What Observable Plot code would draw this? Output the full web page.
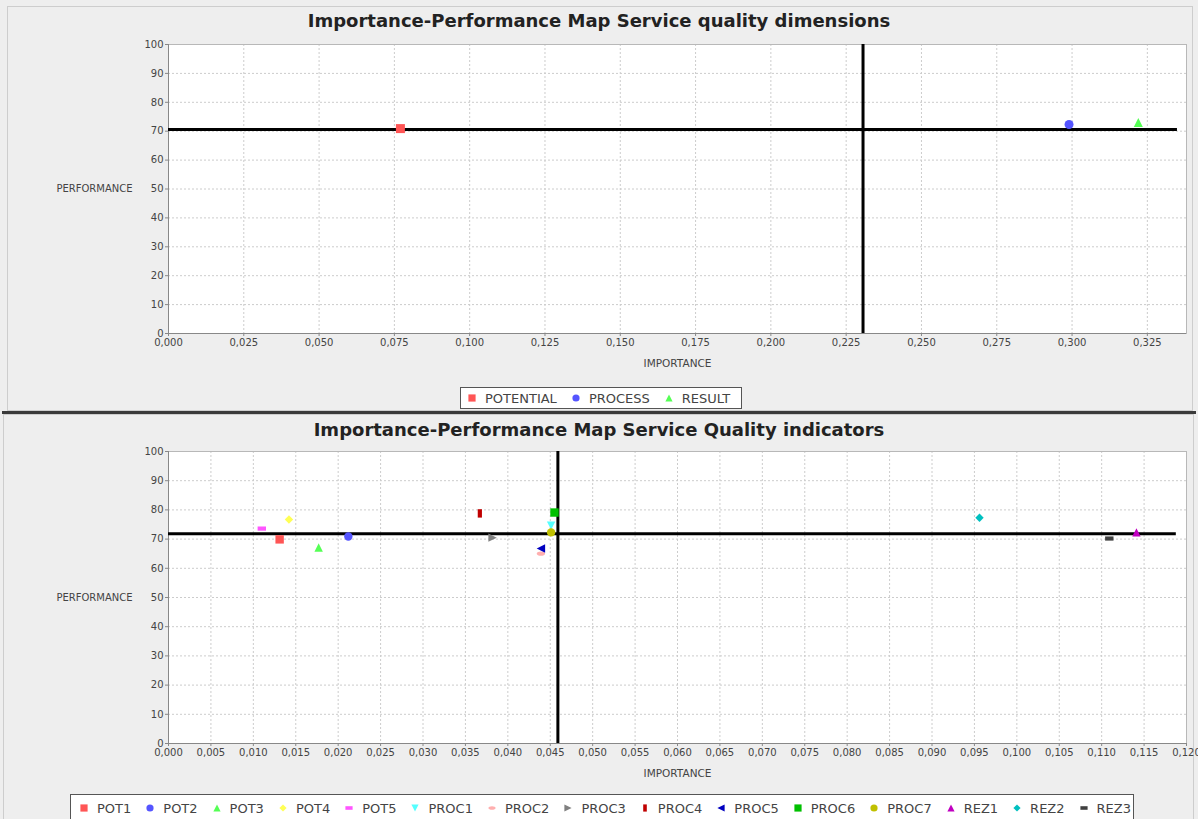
<!DOCTYPE html>
<html><head><meta charset="utf-8">
<script src="https://cdn.jsdelivr.net/npm/d3@7"></script>
<script src="https://cdn.jsdelivr.net/npm/@observablehq/plot@0.6"></script>
<style>
html,body{margin:0;padding:0;background:#eeeeee;}
#root{position:relative;width:1198px;height:819px;overflow:hidden;font-family:"DejaVu Sans",sans-serif;background:#eeeeee;}
.panel{position:absolute;border:1px solid #cdcdcd;box-sizing:border-box;}
.sep{position:absolute;left:2px;width:1194px;top:411px;height:3px;background:#3a3a3a;}
.title{position:absolute;left:0;width:1198px;text-align:center;font-weight:bold;font-size:18px;color:#222;white-space:nowrap;}
.chart{position:absolute;left:0;}
.legend{position:absolute;background:#fff;border:1px solid #555;box-sizing:border-box;display:flex;align-items:center;font-size:13px;color:#444;white-space:nowrap;padding-left:6px;}
.legend .item{display:flex;align-items:center;margin-right:14px;}
.legend svg{margin-right:8px;overflow:visible;}
</style>
</head><body>
<div id="root">
  <div class="panel" style="left:7px;top:6px;width:1186px;height:405px;"></div>
  <div class="panel" style="left:3px;top:414px;width:1191px;height:410px;"></div>
  <div class="sep"></div>
  <div class="title" id="t1" style="top:10px;"></div>
  <div class="chart" id="c1" style="top:0px;"></div>
  <div class="legend" id="l1" style="left:460px;top:387px;width:282px;height:22px;"></div>
  <div class="title" id="t2" style="top:419px;"></div>
  <div class="chart" id="c2" style="top:415px;"></div>
  <div class="legend" id="l2" style="left:70px;top:794px;width:1064px;height:28px;padding-left:8px;"></div>
</div>
<script>
// ---------- Data ----------
const dimTitle = "Importance-Performance Map Service quality dimensions";
const dimNames = ["POTENTIAL", "PROCESS", "RESULT"];
const dimImportance = [0.077, 0.299, 0.322];
const dimPerformance = [70.9, 72.3, 73.0];
const dimMeanImportance = 0.2306;
const dimMeanPerformance = 70.6;
const dimXTicks = [0, 0.025, 0.05, 0.075, 0.1, 0.125, 0.15, 0.175, 0.2, 0.225, 0.25, 0.275, 0.3, 0.325];

const indTitle = "Importance-Performance Map Service Quality indicators";
const indNames = ["POT1","POT2","POT3","POT4","POT5","PROC1","PROC2","PROC3","PROC4","PROC5","PROC6","PROC7","REZ1","REZ2","REZ3"];
const indImportance = [0.0131, 0.0212, 0.0177, 0.0142, 0.0110, 0.0451, 0.0439, 0.0382, 0.0367, 0.0439, 0.0455, 0.0451, 0.1141, 0.0956, 0.1109];
const indPerformance = [69.9, 70.9, 67.1, 76.7, 73.6, 74.6, 65.0, 70.5, 78.8, 66.8, 79.1, 72.3, 72.3, 77.3, 70.2];
const indMeanImportance = 0.0459;
const indMeanPerformance = 71.8;
const indXTicks = [0,0.005,0.01,0.015,0.02,0.025,0.03,0.035,0.04,0.045,0.05,0.055,0.06,0.065,0.07,0.075,0.08,0.085,0.09,0.095,0.1,0.105,0.11,0.115,0.12];

const yTicks = [0,10,20,30,40,50,60,70,80,90,100];
const xLabel = "IMPORTANCE";
const yLabel = "PERFORMANCE";

// JFreeChart default series paints
const palette = ["#ff5555","#5555ff","#55ff55","#ffff55","#ff55ff","#55ffff","#ffafaf","#808080","#c00000","#0000c0","#00c000","#c0c000","#c000c0","#00c0c0","#404040"];

// ---------- JFreeChart-like shapes ----------
const R = s => Math.sqrt(s / Math.PI);
const shapes = [
  {draw(c,s){const r=R(s);c.rect(-r,-r,2*r,2*r);}},
  {draw(c,s){const r=R(s);c.moveTo(r,0);c.arc(0,0,r,0,2*Math.PI);}},
  {draw(c,s){const r=R(s);c.moveTo(0,-r);c.lineTo(r,r);c.lineTo(-r,r);c.closePath();}},
  {draw(c,s){const r=R(s);c.moveTo(0,-r);c.lineTo(r,0);c.lineTo(0,r);c.lineTo(-r,0);c.closePath();}},
  {draw(c,s){const r=R(s);c.rect(-r,-r/2,2*r,r);}},
  {draw(c,s){const r=R(s);c.moveTo(-r,-r);c.lineTo(r,-r);c.lineTo(0,r);c.closePath();}},
  {draw(c,s){const r=R(s),h=r/2,k=0.5523;c.moveTo(-r,0);c.bezierCurveTo(-r,-h*k,-r*k,-h,0,-h);c.bezierCurveTo(r*k,-h,r,-h*k,r,0);c.bezierCurveTo(r,h*k,r*k,h,0,h);c.bezierCurveTo(-r*k,h,-r,h*k,-r,0);c.closePath();}},
  {draw(c,s){const r=R(s);c.moveTo(-r,-r);c.lineTo(r,0);c.lineTo(-r,r);c.closePath();}},
  {draw(c,s){const r=R(s);c.rect(-r/2,-r,r,2*r);}},
  {draw(c,s){const r=R(s);c.moveTo(r,-r);c.lineTo(-r,0);c.lineTo(r,r);c.closePath();}}
];
const shapeOf = i => shapes[i % shapes.length];

const fmt = d => d.toFixed(3).replace(".", ",");

function makeChart({names, imp, perf, meanX, meanY, xTicks, xMax, lineEnd, height, mt, mb, r}) {
  const rows = names.map((n,i) => ({name:n, x:imp[i], y:perf[i], i}));
  const marks = [
    Plot.frame({fill:"white", stroke:"none"}),
    Plot.gridX(xTicks, {stroke:"#cccccc", strokeOpacity:1, strokeDasharray:"2,2"}),
    Plot.gridY(yTicks, {stroke:"#cccccc", strokeOpacity:1, strokeDasharray:"2,2"}),
    Plot.frame({stroke:"#b8b8b8"}),
    Plot.axisX(xTicks, {tickFormat: fmt, tickSize:3, tickPadding:2, stroke:"#888", fill:"#444", label:null}),
    Plot.axisY(yTicks, {tickSize:3, tickPadding:2, stroke:"#888", fill:"#444", label:null}),
    Plot.ruleX([0], {stroke:"#888"}),
    Plot.ruleY([0], {stroke:"#888"}),
    Plot.ruleY([meanY], {x1:0, x2:lineEnd, stroke:"black", strokeWidth:3}),
    Plot.ruleX([meanX], {stroke:"black", strokeWidth:3}),
    ...names.map((n,i) => Plot.dot(rows.filter(d => d.i === i), {x:"x", y:"y", fill:"name", r, symbol: shapeOf(i)})),
    Plot.text([xLabel], {frameAnchor:"bottom", dy:33, fontSize:10.5, fill:"#444"}),
    Plot.text([yLabel], {frameAnchor:"left", dx:-74, textAnchor:"middle", fontSize:10, fill:"#444"})
  ];
  return Plot.plot({
    width:1198, height, marginLeft:168, marginRight:12, marginTop:mt, marginBottom:mb,
    x:{domain:[0,xMax]}, y:{domain:[0,100]},
    color:{domain:names, range:palette},
    style:{fontFamily:"DejaVu Sans", fontSize:"10px", background:"transparent", overflow:"visible"},
    marks
  });
}

function makeLegend(el, names, size) {
  names.forEach((n,i) => {
    const item = document.createElement("div");
    item.className = "item";
    const svg = d3.create("svg").attr("width", 10).attr("height", 10);
    const p = d3.path();
    shapeOf(i).draw(p, size*size*Math.PI);
    svg.append("path").attr("d", p.toString()).attr("transform","translate(5,5)").attr("fill", palette[i]);
    item.appendChild(svg.node());
    const t = document.createElement("span");
    t.textContent = n;
    item.appendChild(t);
    el.appendChild(item);
  });
}

document.getElementById("t1").textContent = dimTitle;
document.getElementById("t2").textContent = indTitle;

document.getElementById("c1").appendChild(makeChart({
  names:dimNames, imp:dimImportance, perf:dimPerformance, meanX:dimMeanImportance, meanY:dimMeanPerformance,
  xTicks:dimXTicks, xMax:0.338, lineEnd:0.335, height:410, mt:44, mb:77, r:4.5
}));
document.getElementById("c2").appendChild(makeChart({
  names:indNames, imp:indImportance, perf:indPerformance, meanX:indMeanImportance, meanY:indMeanPerformance,
  xTicks:indXTicks, xMax:0.12, lineEnd:0.1188, height:404, mt:36, mb:76, r:4.2
}));
makeLegend(document.getElementById("l1"), dimNames, 3.6);
makeLegend(document.getElementById("l2"), indNames, 3.6);
</script>
</body></html>
